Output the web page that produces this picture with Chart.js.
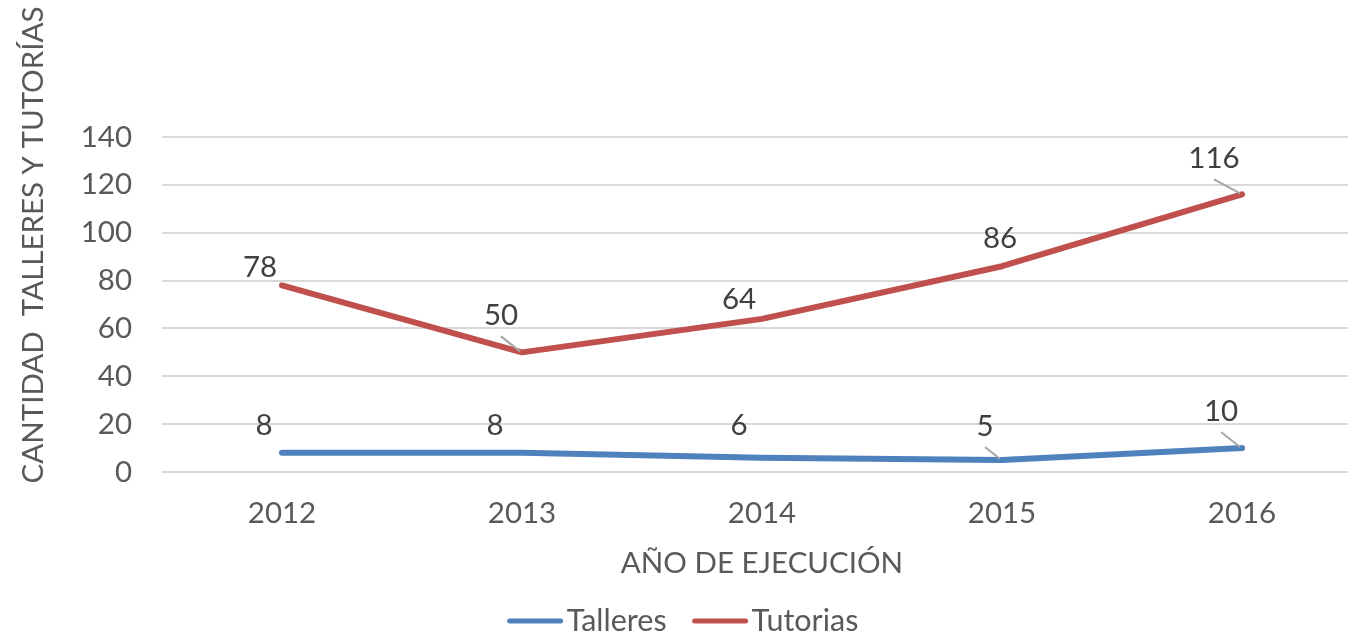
<!DOCTYPE html>
<html>
<head>
<meta charset="utf-8">
<script src="https://cdn.jsdelivr.net/npm/chart.js@4"></script>
<style>
  html, body { margin: 0; padding: 0; background: #fff; overflow: hidden; }
  #wrap { position: relative; width: 1348px; height: 634px; overflow: hidden; }
  #chart { position: absolute; left: 0; top: 0; }
</style>
</head>
<body>
<div id="wrap"><canvas id="chart" width="1370" height="634"></canvas></div>
<script>
const years = ['2012', '2013', '2014', '2015', '2016'];
const talleres = [8, 8, 6, 5, 10];
const tutorias = [78, 50, 64, 86, 116];
const yMax = 140;
const yStep = 20;

const yTitle = 'CANTIDAD  TALLERES Y TUTORÍAS';
const xTitle = 'AÑO DE EJECUCIÓN';

// label placement relative to each point (dx, dy) and whether a leader line shows
const offTalleres = [[-18, -27], [-27, -27], [-23, -32], [-17, -34], [-21, -37]];
const offTutorias = [[-22, -18], [-21, -37], [-23, -19], [-2, -28], [-28, -36]];
const leadTalleres = [false, false, false, true, true];
const leadTutorias = [false, true, false, false, true];

const FONT = 'Lato, "Open Sans", sans-serif';
const SIZE = 29.5;
const txt = '#595959';

const labelPlugin = {
  id: 'labels',
  afterDatasetsDraw(chart) {
    const ctx = chart.ctx;
    const sets = [[offTalleres, leadTalleres], [offTutorias, leadTutorias]];
    ctx.save();
    ctx.font = SIZE + 'px ' + FONT;
    ctx.textAlign = 'center';
    ctx.textBaseline = 'middle';
    chart.data.datasets.forEach((ds, i) => {
      const meta = chart.getDatasetMeta(i);
      meta.data.forEach((pt, j) => {
        const [dx, dy] = sets[i][0][j];
        const lx = pt.x + dx, ly = pt.y + dy;
        if (sets[i][1][j]) {
          ctx.strokeStyle = '#a6a6a6';
          ctx.lineWidth = 2;
          ctx.beginPath();
          ctx.moveTo(lx, ly + 21);
          ctx.lineTo(pt.x - 2, pt.y - 1);
          ctx.stroke();
        }
        ctx.fillStyle = '#404040';
        ctx.fillText(String(ds.data[j]), lx, ly);
      });
    });

    // vertical axis title
    ctx.save();
    ctx.translate(33, 245);
    ctx.rotate(-Math.PI / 2);
    ctx.fillStyle = txt;
    ctx.fillText(yTitle, 0, 0);
    ctx.restore();

    // legend
    ctx.font = '30.5px ' + FONT;
    const lineW = 55, gapTxt = 4, gapItem = 26, ly = 621;
    const widths = chart.data.datasets.map(ds => ctx.measureText(ds.label).width);
    let total = 0;
    widths.forEach((w, i) => { total += lineW + gapTxt + w + (i ? 0 : gapItem); });
    let x = 683 - total / 2;
    ctx.textAlign = 'left';
    chart.data.datasets.forEach((ds, i) => {
      ctx.strokeStyle = ds.borderColor;
      ctx.lineWidth = 5;
      ctx.lineCap = 'round';
      ctx.beginPath();
      ctx.moveTo(x + 2, ly);
      ctx.lineTo(x + lineW - 2, ly);
      ctx.stroke();
      x += lineW + gapTxt;
      ctx.fillStyle = txt;
      ctx.fillText(ds.label, x, ly);
      x += widths[i] + gapItem;
    });
    ctx.restore();
  }
};

const ctx = document.getElementById('chart').getContext('2d');
new Chart(ctx, {
  type: 'line',
  data: {
    labels: years,
    datasets: [{
      label: 'Talleres',
      data: talleres,
      borderColor: '#4f81bd',
      backgroundColor: '#4f81bd',
      borderWidth: 6,
      pointRadius: 0,
      borderCapStyle: 'round',
      borderJoinStyle: 'round',
      tension: 0
    }, {
      label: 'Tutorias',
      data: tutorias,
      borderColor: '#c0504d',
      backgroundColor: '#c0504d',
      borderWidth: 6,
      pointRadius: 0,
      borderCapStyle: 'round',
      borderJoinStyle: 'round',
      tension: 0
    }]
  },
  options: {
    responsive: false,
    animation: false,
    layout: { padding: { top: 137, right: 8, left: 0, bottom: 0 } },
    scales: {
      x: {
        offset: true,
        afterFit(scale) { scale.height = 162; },
        grid: { display: false, drawTicks: false },
        border: { display: false },
        ticks: { color: txt, font: { family: FONT, size: SIZE }, padding: 24, maxRotation: 0 },
        title: {
          display: true,
          text: xTitle,
          color: txt,
          font: { family: FONT, size: SIZE },
          padding: { top: 14, bottom: 53 }
        }
      },
      y: {
        min: 0,
        max: yMax,
        afterFit(scale) { scale.width = 162; },
        grid: { color: '#d9d9d9', lineWidth: 2, drawTicks: false },
        border: { display: false },
        ticks: { stepSize: yStep, color: txt, font: { family: FONT, size: SIZE }, padding: 30 }
      }
    },
    plugins: {
      legend: { display: false },
      tooltip: { enabled: false }
    }
  },
  plugins: [labelPlugin]
});
</script>
</body>
</html>
